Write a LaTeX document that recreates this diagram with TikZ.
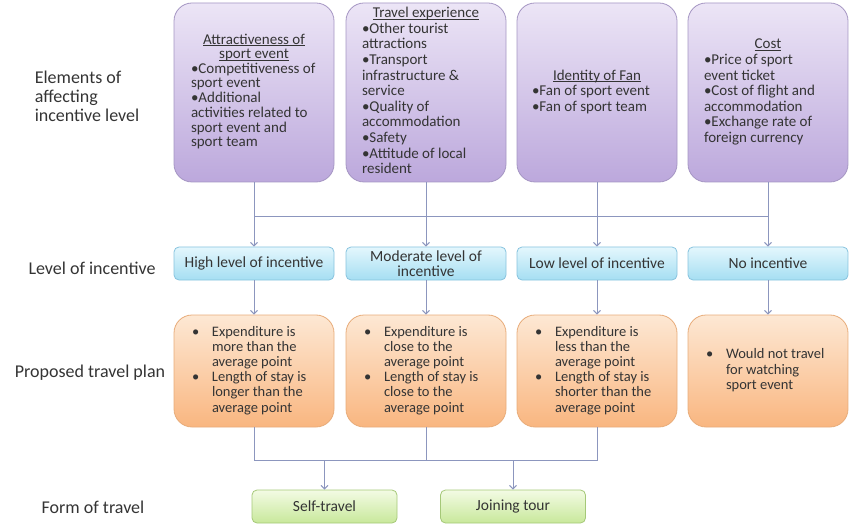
\documentclass[tikz,border=0pt]{standalone}
\usepackage{fontspec}
\setmainfont{Carlito}
\usepackage{xcolor}
\usepackage{tikz}
\usetikzlibrary{arrows.meta}

\definecolor{txt}{RGB}{52,52,52}
\definecolor{connc}{RGB}{140,150,190}
\definecolor{elemtop}{RGB}{236,229,246}
\definecolor{elembot}{RGB}{188,168,220}
\definecolor{elemline}{RGB}{165,150,195}
\definecolor{lvltop}{RGB}{228,247,253}
\definecolor{lvlbot}{RGB}{165,222,242}
\definecolor{lvlline}{RGB}{135,195,222}
\definecolor{plantop}{RGB}{253,232,212}
\definecolor{planbot}{RGB}{249,182,128}
\definecolor{planline}{RGB}{232,172,122}
\definecolor{formtop}{RGB}{243,251,228}
\definecolor{formbot}{RGB}{200,232,155}
\definecolor{formline}{RGB}{165,200,120}

\newcommand{\uline}[1]{\setbox0\hbox{#1}\rlap{\rule[-1.6pt]{\wd0}{0.6pt}}\box0}
\newcommand{\etitle}[1]{\multicolumn{1}{@{}c@{}}{\uline{#1}}}

\begin{document}
\begin{tikzpicture}[x=1pt,y=-1pt,
		elem/.style={draw=elemline,line width=0.8pt,rounded corners=18pt,top color=elemtop,bottom color=elembot,
			minimum width=160pt,minimum height=179pt,inner sep=0pt,text=txt,font=\fontsize{15}{15.6}\selectfont},
		lvl/.style={draw=lvlline,line width=0.8pt,rounded corners=5pt,top color=lvltop,bottom color=lvlbot,
			minimum width=160pt,minimum height=33pt,inner sep=0pt,align=center,text=txt,font=\fontsize{15.5}{15.5}\selectfont},
		plan/.style={draw=planline,line width=0.8pt,rounded corners=18pt,top color=plantop,bottom color=planbot,
			minimum width=160pt,minimum height=112pt,inner sep=0pt,text=txt,font=\fontsize{14.5}{15.2}\selectfont},
		form/.style={draw=formline,line width=0.8pt,rounded corners=5pt,top color=formtop,bottom color=formbot,
			minimum width=145pt,minimum height=33pt,inner sep=0pt,text=txt,font=\fontsize{15.5}{15.5}\selectfont},
		rowlabel/.style={text=txt,align=left,font=\fontsize{18}{19}\selectfont},
		conn/.style={draw=connc,line width=1pt},
		arr/.style={conn,-{Straight Barb[length=3.5pt,width=7pt]}}]
	\useasboundingbox (0,0) rectangle (856,529);

	% row labels
	\node[rowlabel] (rl1) at (87,96) {Elements of\\affecting\\incentive level};
	\node[rowlabel] (rl2) at (92,268) {Level of incentive};
	\node[rowlabel] (rl3) at (90,373) {Proposed travel plan};
	\node[rowlabel] (rl4) at (93,507) {Form of travel};

	% elements
	\node[elem,font=\fontsize{15}{14.6}\selectfont] (e1) at (254,92.5) {\begin{tabular}{@{}p{126pt}@{}}
			\etitle{Attractiveness of}\\
			\etitle{sport event}\\
			\textbullet Competitiveness of\\
			sport event\\
			\textbullet Additional\\
			activities related to\\
			sport event and\\
			sport team
		\end{tabular}};
	\node[elem] (e2) at (426,92.5) {\begin{tabular}{@{}p{128pt}@{}}
			\etitle{Travel experience}\\
			\textbullet Other tourist\\
			attractions\\
			\textbullet Transport\\
			infrastructure \&\\
			service\\
			\textbullet Quality of\\
			accommodation\\
			\textbullet Safety\\
			\textbullet Attitude of local\\
			resident
		\end{tabular}};
	\node[elem] (e3) at (597,92.5) {\begin{tabular}{@{}p{130pt}@{}}
			\etitle{Identity of Fan}\\
			\textbullet Fan of sport event\\
			\textbullet Fan of sport team
		\end{tabular}};
	\node[elem] (e4) at (768,92.5) {\begin{tabular}{@{}p{128pt}@{}}
			\etitle{Cost}\\
			\textbullet Price of sport\\
			event ticket\\
			\textbullet Cost of flight and\\
			accommodation\\
			\textbullet Exchange rate of\\
			foreign currency
		\end{tabular}};

	% level of incentive
	\node[lvl] (l1) at (254,263.5) {High level of incentive};
	\node[lvl] (l2) at (426,263.5) {Moderate level of\\incentive};
	\node[lvl] (l3) at (597,263.5) {Low level of incentive};
	\node[lvl] (l4) at (768,263.5) {No incentive};

	% travel plan
	\node[plan] (p1) at (254,371) {\begin{tabular}{@{}p{20pt}@{}p{104pt}@{}}
			\textbullet & Expenditure is\\
			& more than the\\
			& average point\\
			\textbullet & Length of stay is\\
			& longer than the\\
			& average point
		\end{tabular}};
	\node[plan] (p2) at (426,371) {\begin{tabular}{@{}p{20pt}@{}p{104pt}@{}}
			\textbullet & Expenditure is\\
			& close to the\\
			& average point\\
			\textbullet & Length of stay is\\
			& close to the\\
			& average point
		\end{tabular}};
	\node[plan] (p3) at (597,371) {\begin{tabular}{@{}p{20pt}@{}p{104pt}@{}}
			\textbullet & Expenditure is\\
			& less than the\\
			& average point\\
			\textbullet & Length of stay is\\
			& shorter than the\\
			& average point
		\end{tabular}};
	\node[plan] (p4) at (768,371) {\begin{tabular}{@{}p{20pt}@{}p{104pt}@{}}
			\textbullet & Would not travel\\
			& for watching\\
			& sport event
		\end{tabular}};

	% form of travel
	\node[form] (f1) at (324.5,506.5) {Self-travel};
	\node[form] (f2) at (513,506.5) {Joining tour};

	% connectors
	\coordinate (bus1) at (0,217);
	\coordinate (bus2) at (0,460);
	\draw[conn] (e1.south |- bus1) -- (e4.south |- bus1);
	\foreach \i in {1,...,4}{
		\draw[arr] (e\i.south) -- (l\i.north);
		\draw[arr] (l\i.south) -- (p\i.north);
	}
	\draw[conn] (p1.south) -- (p1.south |- bus2) -- (p3.south |- bus2) -- (p3.south);
	\draw[conn] (p2.south) -- (p2.south |- bus2);
	\draw[arr] (f1.north |- bus2) -- (f1.north);
	\draw[arr] (f2.north |- bus2) -- (f2.north);
\end{tikzpicture}
\end{document}
